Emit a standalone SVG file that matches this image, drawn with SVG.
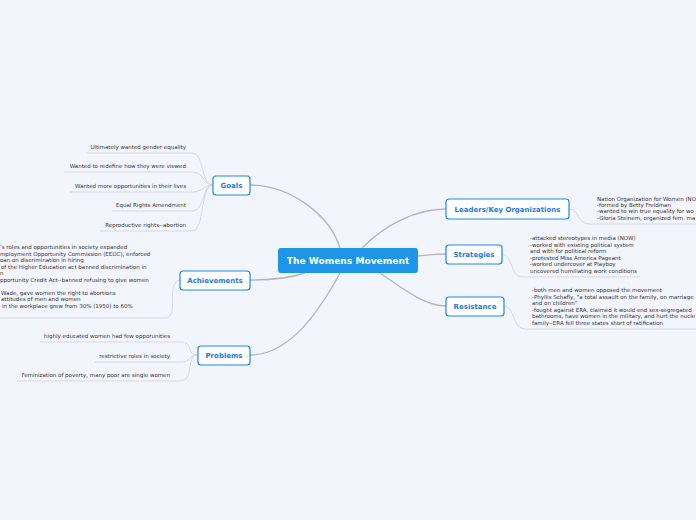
<svg xmlns="http://www.w3.org/2000/svg" width="696" height="520" viewBox="0 0 696 520">
<style>
.bg{fill:#f3f5fd}
.main{stroke:#b4b6c2;stroke-width:1.4;fill:none}
.leaf{stroke:#cfd1db;stroke-width:0.8;fill:none}
.box{fill:#ffffff;stroke:#1e88e5;stroke-width:1.2}
.lbl{font-family:"DejaVu Sans",Verdana,sans-serif;font-weight:bold;font-size:7px;fill:#1e7ad8;text-anchor:middle}
.t{font-family:"DejaVu Sans",Verdana,sans-serif;font-size:5.5px;fill:#333333}
.r{text-anchor:end}
</style>
<rect class="bg" x="0" y="0" width="696" height="520"/>
<g id="connectors">
<path class="main" d="M340,248 C330,215 290,185 250,185"/>
<path class="main" d="M305,273 C290,278 270,280 250,280"/>
<path class="main" d="M340,273 C320,310 290,355 250,355"/>
<path class="main" d="M362,248 C385,225 415,209 446,209"/>
<path class="main" d="M418,256 C430,255 435,254 446,254"/>
<path class="main" d="M380,273 C405,290 425,306 446,306"/>
<path class="leaf" d="M213,185 C200,185 205,153 192,153 H86"/>
<path class="leaf" d="M213,185 C202,185 205,172 192,172 H64"/>
<path class="leaf" d="M213,185 C205,185 202,192 192,192 H70"/>
<path class="leaf" d="M213,185 C202,185 205,211 192,211 H112"/>
<path class="leaf" d="M213,185 C200,185 205,231 192,231 H100"/>
<path class="leaf" d="M180,280 C165,282 180,318 165,318 H0"/>
<path class="leaf" d="M198,355 C185,355 195,342 180,342 H40"/>
<path class="leaf" d="M198,355 C188,355 192,362 180,362 H94"/>
<path class="leaf" d="M198,355 C185,355 195,381 180,381 H17"/>
<path class="leaf" d="M569,209 C580,209 576,224 590,224 H696"/>
<path class="leaf" d="M502,254 C513,254 510,277 522,277 H640"/>
<path class="leaf" d="M504,306 C515,306 512,329 525,329 H696"/>
</g>
<g id="center">
<rect x="278" y="248" width="140" height="25" rx="3" fill="#1e95e6"/>
<text x="348" y="264" font-family="'DejaVu Sans',Verdana,sans-serif" font-weight="bold" font-size="9.1" fill="#ffffff" text-anchor="middle">The Womens Movement</text>
</g>
<g id="goals">
<rect class="box" x="213" y="176" width="37" height="19" rx="3"/>
<text class="lbl" x="231.5" y="188">Goals</text>
</g>
<g id="goals-leaves">
<text class="t r" x="186" y="149">Ultimately wanted gender equality</text>
<text class="t r" x="186" y="168">Wanted to redefine how they were viewed</text>
<text class="t r" x="186" y="188">Wanted more opportunities in their lives</text>
<text class="t r" x="186" y="207">Equal Rights Amendment</text>
<text class="t r" x="186" y="227">Reproductive rights--abortion</text>
</g>
<g id="achievements">
<rect class="box" x="180" y="271" width="70" height="19" rx="3"/>
<text class="lbl" x="215" y="283">Achievements</text>
</g>
<g id="achievements-text">
<text class="t" x="0" y="249">’s roles and opportunities in society expanded</text>
<text class="t" x="0" y="256">mployment Opportunity Commission (EEOC), enforced</text>
<text class="t" x="0" y="262">oan on discrimination in hiring</text>
<text class="t" x="1" y="269">of the Higher Education act banned discrimination in</text>
<text class="t" x="0" y="275">n</text>
<text class="t" x="0" y="282">pportunity Credit Act--banned refusing to give women</text>
<text class="t" x="1" y="295">Wade, gave women the right to abortions</text>
<text class="t" x="1" y="301">attitudes of men and women</text>
<text class="t" x="2" y="308">in the workplace grew from 30% (1950) to 60%</text>
</g>
<g id="problems">
<rect class="box" x="198" y="346" width="52" height="19" rx="3"/>
<text class="lbl" x="224" y="358">Problems</text>
</g>
<g id="problems-leaves">
<text class="t r" x="170" y="338">highly educated women had few opporunities</text>
<text class="t r" x="170" y="358">restrictive roles in society</text>
<text class="t r" x="170" y="377">Feminization of poverty, many poor are single women</text>
</g>
<g id="leaders">
<rect class="box" x="446" y="199" width="123" height="20" rx="3"/>
<text class="lbl" x="507.5" y="212">Leaders/Key Organizations</text>
</g>
<g id="leaders-text">
<text class="t" x="597" y="201">Nation Organization for Women (NO</text>
<text class="t" x="597" y="207">-formed by Betty Freidman</text>
<text class="t" x="597" y="213">-wanted to win true equality for wo</text>
<text class="t" x="597" y="220">-Gloria Steinem, organized fem. ma</text>
</g>
<g id="strategies">
<rect class="box" x="446" y="245" width="56" height="19" rx="3"/>
<text class="lbl" x="474" y="257">Strategies</text>
</g>
<g id="strategies-text">
<text class="t" x="530" y="240">-attacked stereotypes in media (NOW)</text>
<text class="t" x="530" y="247">-worked with existing political system</text>
<text class="t" x="530" y="253">and with for political reform</text>
<text class="t" x="530" y="260">-protested Miss America Pageant</text>
<text class="t" x="530" y="266">-worked undercover at Playboy</text>
<text class="t" x="530" y="273">uncovered humiliating work conditions</text>
</g>
<g id="resistance">
<rect class="box" x="446" y="297" width="58" height="19" rx="3"/>
<text class="lbl" x="475" y="309">Resistance</text>
</g>
<g id="resistance-text">
<text class="t" x="532" y="292">-both men and women opposed the movement</text>
<text class="t" x="532" y="299">-Phyllis Schafly, "a total assault on the family, on marriage</text>
<text class="t" x="532" y="305">and on children"</text>
<text class="t" x="532" y="312">-fought against ERA, claimed it would end sex-segregated</text>
<text class="t" x="532" y="318">bathrooms, have women in the military, and hurt the nucle</text>
<text class="t" x="532" y="325">family--ERA fell three states short of ratification</text>
</g>
</svg>
